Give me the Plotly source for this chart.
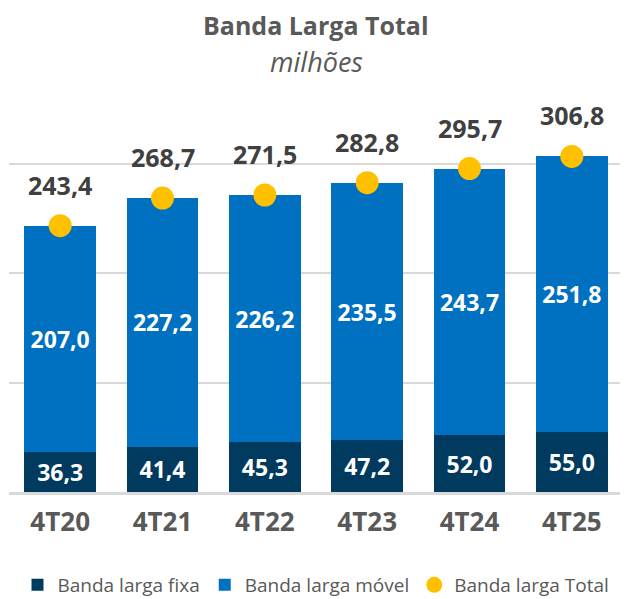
import plotly.graph_objects as go

# Dados (milhões)
periodos = ['4T20', '4T21', '4T22', '4T23', '4T24', '4T25']
fixa = [36.3, 41.4, 45.3, 47.2, 52.0, 55.0]
movel = [207.0, 227.2, 226.2, 235.5, 243.7, 251.8]
total = [243.4, 268.7, 271.5, 282.8, 295.7, 306.8]


def br(v):
    return f"{v:.1f}".replace('.', ',')


FONT = "Open Sans"
GRAY = "#595959"
# a página tem 8px de margem no body, então a figura é um pouco menor
OFF = 8
W, H = 628 - OFF, 599 - OFF
MT, MB = 131 - OFF, 599 - 492
PLOT_H = H - MT - MB

fig = go.Figure()

fig.add_trace(go.Bar(
    x=periodos, y=fixa, name='Banda larga fixa',
    marker=dict(color='#003a5e', line=dict(width=0)),
    text=[br(v) for v in fixa], textposition='inside', insidetextanchor='middle',
    textfont=dict(family=FONT, size=23, color='white', weight='bold'),
    width=0.70,
))
fig.add_trace(go.Bar(
    x=periodos, y=movel, name='Banda larga móvel',
    marker=dict(color='#0070c0', line=dict(width=0)),
    text=[br(v) for v in movel], textposition='inside', insidetextanchor='middle',
    textfont=dict(family=FONT, size=23, color='white', weight='bold'),
    width=0.70,
))
fig.add_trace(go.Scatter(
    x=periodos, y=total, name='Banda larga Total', mode='markers',
    marker=dict(color='#ffc000', size=23),
    cliponaxis=False,
))

# rótulos do total acima dos marcadores
for p, v in zip(periodos, total):
    fig.add_annotation(x=p, y=v, text=f"<b>{br(v)}</b>", showarrow=False,
                       yshift=41, font=dict(family=FONT, size=25, color='#404040'))


def py(screen_y):
    # converte posição vertical da tela (px) para coordenada paper
    return (H - MB - (screen_y - OFF)) / PLOT_H


fig.add_annotation(text='<b>Banda Larga Total</b>', x=0.5, y=py(25), xref='paper', yref='paper',
                   yanchor='middle', showarrow=False, font=dict(family=FONT, size=25, color=GRAY))
fig.add_annotation(text='<i>milhões</i>', x=0.5, y=py(61), xref='paper', yref='paper',
                   yanchor='middle', showarrow=False, font=dict(family=FONT, size=27, color=GRAY))

fig.update_layout(
    barmode='stack',
    width=W, height=H,
    margin=dict(l=9 - OFF, r=5, t=MT, b=MB, autoexpand=False),
    plot_bgcolor='white', paper_bgcolor='white',
    font=dict(family=FONT, color=GRAY),
    uniformtext=dict(mode='show', minsize=10),
    legend=dict(
        orientation='h', x=0.5, xanchor='center', y=py(585), yanchor='middle',
        font=dict(family=FONT, size=19, color=GRAY),
        traceorder='normal', tracegroupgap=0,
    ),
    xaxis=dict(
        showline=True, linecolor='#d9d9d9', linewidth=2.5,
        tickfont=dict(family=FONT, size=26, color=GRAY, weight='bold'),
        ticks='', ticklabelstandoff=5,
    ),
    yaxis=dict(
        range=[0, 330], dtick=100, showticklabels=False,
        showgrid=True, gridcolor='#d9d9d9', gridwidth=1.5,
        zeroline=False,
    ),
)

fig.write_html("out.html")
